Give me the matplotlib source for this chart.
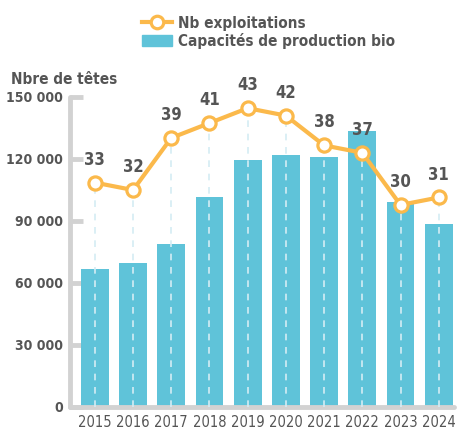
import numpy as np
import matplotlib.pyplot as plt
from matplotlib.lines import Line2D
from matplotlib.patches import Patch

# -------- DATA ----------------------------
years = ['2015', '2016', '2017', '2018', '2019', '2020', '2021', '2022', '2023', '2024']
capacite = [67000, 69700, 79000, 101500, 119500, 122000, 121000, 133500, 99000, 88500]
exploitations = [33, 32, 39, 41, 43, 42, 38, 37, 30, 31]
yticks = [0, 30000, 60000, 90000, 120000, 150000]
ytick_labels = ['0', '30 000', '60 000', '90 000', '120 000', '150 000']

# -------- STYLE ----------------------------
bar_col = '#5fc3d9'
line_col = '#fbb94b'
txt_col = '#555555'
axis_col = '#d2d2d2'
dash_col = '#d4ecf4'
plt.rcParams['font.family'] = ['DejaVu Sans']
font = dict(family='DejaVu Sans', stretch='condensed', weight='bold', color=txt_col)
font_year = dict(family='DejaVu Sans', stretch='condensed', weight='normal', color=txt_col)

fig = plt.figure(figsize=(4.61, 4.32), dpi=100)
ax = fig.add_axes([70 / 461, 1 - 407 / 432, (454 - 70) / 461, (407 - 97) / 432])
x = np.arange(len(years))

ax.bar(x, capacite, width=0.73, color=bar_col, zorder=2)
ax.set_ylim(0, 150000)
ax.set_xlim(-0.65, 9.4)
ax.set_yticks(yticks)
ax.set_yticklabels(ytick_labels, fontdict=font, fontsize=10)
ax.set_xticks(x)
ax.set_xticklabels(years, fontdict=font_year, fontsize=10.5)
ax.tick_params(axis='y', direction='in', length=9, width=3.5, color=axis_col, pad=5)
ax.tick_params(axis='x', length=0, pad=6)
for s in ['top', 'right']:
    ax.spines[s].set_visible(False)
for s in ['left', 'bottom']:
    ax.spines[s].set_color(axis_col)
    ax.spines[s].set_linewidth(3.5)
    ax.spines[s].set_capstyle('round')

# secondary axis for number of farms (hidden)
ax2 = ax.twinx()
ax2.set_ylim(2.85, 44.5)
ax2.axis('off')
for xi, v in zip(x, exploitations):
    ax2.plot([xi, xi], [2.85, v], color=dash_col, lw=1.2, ls=(0, (4, 4)), zorder=3)
ax2.plot(x, exploitations, color=line_col, lw=3, marker='o', ms=9.5,
         mfc='white', mec=line_col, mew=2.3, zorder=4)
for xi, v in zip(x, exploitations):
    ax2.annotate(str(v), (xi, v), xytext=(0, 10), textcoords='offset points',
                 ha='center', va='bottom', fontsize=12, **font)

fig.text(117 / 461, 1 - 80 / 432, 'Nbre de têtes', ha='right', va='center', fontsize=11, **font)

handles = [Line2D([], [], color=line_col, lw=3, marker='o', ms=9, mfc='white',
                  mec=line_col, mew=2.3),
           Patch(color=bar_col)]
leg = fig.legend(handles, ['Nb exploitations', 'Capacités de production bio'],
                 loc='upper left', bbox_to_anchor=(128 / 461, 1 - 2 / 432), frameon=False,
                 handlelength=2.0, handletextpad=0.35, labelspacing=0.15,
                 prop=dict(family='DejaVu Sans', stretch='condensed', weight='bold', size=11))
for t in leg.get_texts():
    t.set_color(txt_col)

fig.savefig('out.png', dpi=100)
